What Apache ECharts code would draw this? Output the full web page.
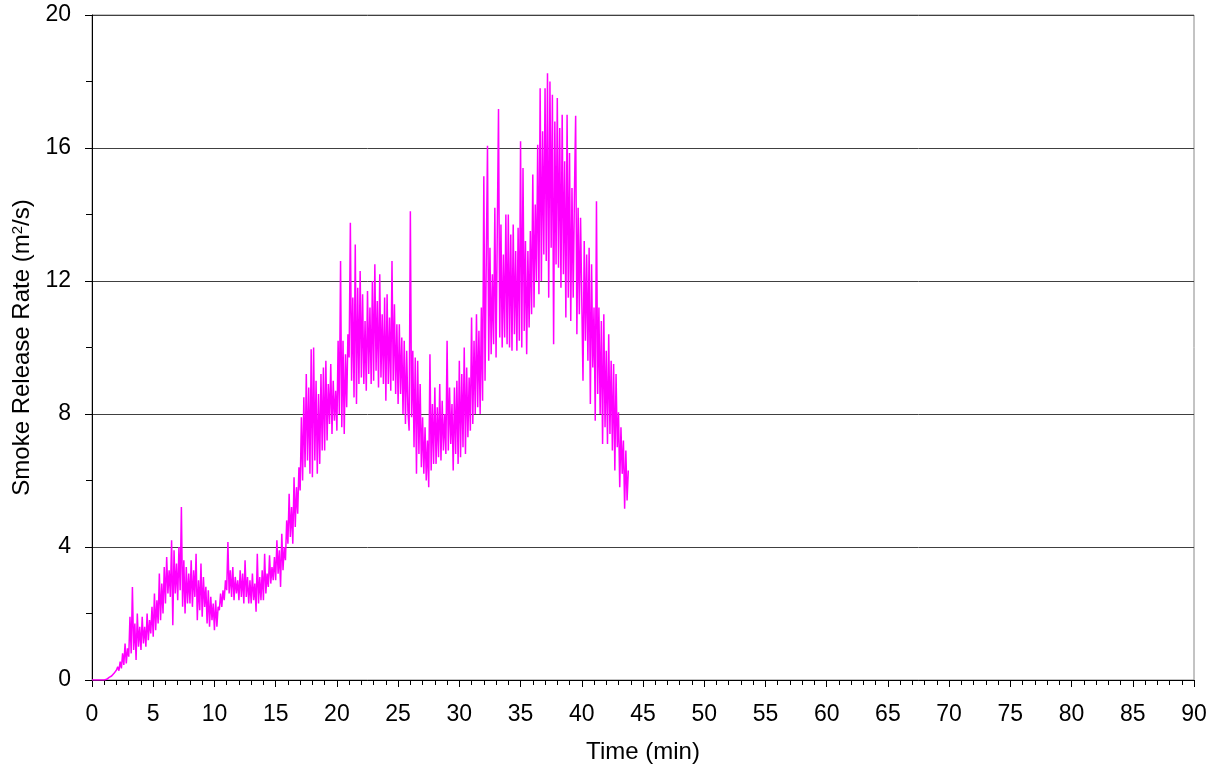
<!DOCTYPE html>
<html>
<head>
<meta charset="utf-8">
<script src="https://cdn.jsdelivr.net/npm/echarts@6/dist/echarts.min.js"></script>
<style>
html,body{margin:0;padding:0;background:#fff;}
#chart{width:1214px;height:770px;}
</style>
</head>
<body>
<div id="chart"></div>
<script>
// Sampling grid of the recorded series (minutes)
const sampleStart = 0.0;
const sampleStep = 0.1;

// Smoke release rate (m^2/s), one row per minute (10 samples each)
const smokeRate = [
  0,0,0,0,0,0,0,0,0,0,
  0,0,0.02,0.05,0.08,0.1,0.12,0.15,0.2,0.18,
  0.3,0.4,0.28,0.55,0.35,0.8,0.45,1.1,0.5,0.95,
  0.7,1.9,0.8,2.8,0.9,1.7,0.6,2.0,1.0,1.6,
  0.9,1.9,1.1,1.6,1.0,2.0,1.2,1.8,1.4,2.2,
  1.3,2.6,1.5,2.4,1.7,3.2,1.8,2.9,2.0,3.4,
  2.3,3.7,2.6,3.3,2.5,4.2,1.65,3.9,2.6,3.5,
  2.4,4.0,2.7,5.2,2.2,3.6,2.0,3.4,2.3,3.2,
  2.3,3.6,2.2,3.3,2.5,3.8,1.8,3.0,2.1,3.5,
  1.9,3.1,2.2,2.8,1.7,2.7,1.6,2.5,1.8,2.3,
  1.5,2.4,1.6,2.2,2.1,2.6,2.2,2.7,2.4,3.0,
  2.7,4.15,2.6,3.3,2.5,3.4,2.4,3.1,2.6,3.0,
  2.4,3.3,2.5,3.2,2.3,3.6,2.5,3.1,2.3,3.0,
  2.3,3.2,2.4,2.9,2.05,3.8,2.3,3.1,2.4,3.3,
  2.4,3.8,2.6,3.2,2.8,3.75,2.9,3.4,3.0,3.7,
  3.0,4.2,3.2,3.9,2.8,4.4,3.3,4.0,3.6,4.8,
  4.1,5.6,4.3,5.2,4.1,6.1,4.6,5.8,5.0,6.4,
  5.7,7.9,6.0,8.5,6.4,9.2,6.6,8.8,6.2,9.95,
  6.1,10.0,6.6,9.0,6.2,8.6,6.5,9.2,6.9,9.4,
  6.9,9.6,7.2,8.9,7.7,9.5,7.4,9.0,7.8,8.7,
  7.5,10.2,8.0,12.6,7.6,10.2,7.4,9.8,8.2,10.4,
  9.7,13.75,9.0,11.5,8.5,13.1,8.3,11.8,8.9,12.3,
  9.1,11.6,8.9,10.8,8.7,11.7,9.2,11.2,8.9,12.0,
  9.0,12.5,9.3,11.4,8.8,12.2,9.1,11.0,8.9,11.5,
  8.4,11.6,8.9,10.9,8.7,12.6,9.0,11.3,8.6,10.7,
  8.3,10.7,8.6,10.3,8.0,10.2,7.7,9.9,8.1,7.5,
  14.1,7.9,9.9,7.0,9.7,6.2,9.6,6.8,8.9,6.4,
  7.9,6.2,7.6,6.0,7.2,5.8,9.8,6.3,8.3,6.5,
  8.8,6.5,8.2,6.7,8.9,6.6,8.4,6.9,8.0,6.8,
  10.2,6.9,8.8,7.1,8.3,6.3,8.8,6.8,9.0,6.5,
  9.6,6.7,9.2,7.0,10.0,6.8,9.4,7.3,9.1,7.5,
  10.9,7.7,10.2,8.0,11.0,8.2,10.5,8.0,11.2,8.4,
  15.15,9.0,12.6,16.07,9.6,13.0,9.8,12.2,10.1,14.2,
  9.7,13.5,17.17,10.3,13.7,10.0,12.8,10.3,14.0,10.1,
  14.0,10.0,13.4,9.9,13.7,10.4,12.9,9.9,13.6,10.2,
  16.2,10.0,15.4,10.5,13.2,9.8,12.9,10.6,13.5,11.0,
  15.2,11.2,14.3,12.0,16.1,11.6,17.8,12.0,16.5,12.8,
  17.8,12.6,18.25,11.5,18.0,13.0,17.6,10.1,16.8,12.5,
  17.5,12.4,16.6,11.8,17.0,12.2,15.6,10.9,17.0,11.5,
  15.85,10.8,14.8,11.5,14.6,16.97,10.4,14.2,11.0,13.9,
  13.85,9.0,13.2,10.2,12.8,9.6,13.0,8.3,12.5,9.4,
  11.2,7.8,14.4,8.6,11.2,8.0,10.8,7.1,11.0,7.6,
  9.9,7.1,10.4,7.4,9.6,6.9,9.5,6.3,9.2,7.0,
  8.05,5.8,7.6,6.2,7.2,5.15,6.9,5.4,6.3
];

const xTitle = 'Time (min)';
const yTitle = 'Smoke Release Rate (m{sup|2}/s)';

const seriesData = smokeRate.map((v, i) => [+(sampleStart + i * sampleStep).toFixed(2), v]);

const chart = echarts.init(document.getElementById('chart'), null, {renderer: 'canvas'});
const font = 'Liberation Sans, Arial, sans-serif';
chart.setOption({
  animation: false,
  backgroundColor: '#ffffff',
  grid: {left: 92, right: 20, top: 15, bottom: 90, show: true, borderColor: '#888888', borderWidth: 1, backgroundColor: 'transparent'},
  xAxis: {
    type: 'value', min: 0, max: 90, interval: 5,
    name: xTitle, nameLocation: 'middle', nameGap: 60,
    nameTextStyle: {fontFamily: font, fontSize: 24, color: '#000'},
    axisLine: {show: true, onZero: false, lineStyle: {color: '#000', width: 1}},
    axisTick: {show: true, inside: false, length: 7, lineStyle: {color: '#000'}},
    minorTick: {show: true, splitNumber: 5, length: 5, lineStyle: {color: '#000'}},
    axisLabel: {fontFamily: font, fontSize: 23, color: '#000', margin: 23},
    splitLine: {show: false}
  },
  yAxis: {
    type: 'value', min: 0, max: 20, interval: 4,
    name: yTitle, nameLocation: 'middle', nameGap: 53,
    nameTextStyle: {
      fontFamily: font, fontSize: 24, color: '#000',
      rich: {sup: {fontFamily: font, fontSize: 15, color: '#000', verticalAlign: 'top', padding: [0, 0, 10, 0]}}
    },
    axisLine: {show: true, onZero: false, lineStyle: {color: '#000', width: 1}},
    axisTick: {show: true, inside: false, length: 7, lineStyle: {color: '#000'}},
    minorTick: {show: true, splitNumber: 2, length: 6, lineStyle: {color: '#000'}},
    axisLabel: {fontFamily: font, fontSize: 23, color: '#000', margin: 21},
    splitLine: {show: true, lineStyle: {color: '#404040', width: 1}}
  },
  series: [{
    type: 'line',
    data: seriesData,
    showSymbol: false,
    symbol: 'none',
    sampling: null,
    lineStyle: {color: '#ff00ff', width: 1.5},
    itemStyle: {color: '#ff00ff'},
    z: 3
  }]
});
</script>
</body>
</html>
